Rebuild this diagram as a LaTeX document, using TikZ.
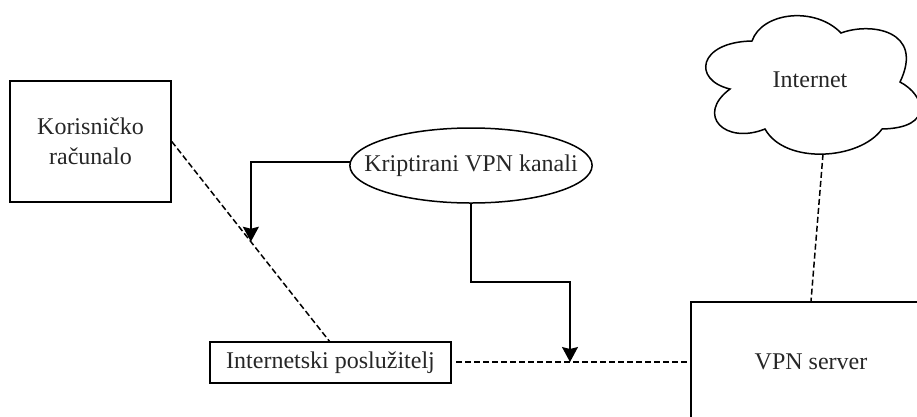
\documentclass[tikz,border=0pt]{standalone}
\usepackage{fontspec}
\setmainfont{Liberation Serif}
\usetikzlibrary{arrows.meta,positioning,shapes.geometric,calc}
\tikzset{
  txt/.style={font=\fontsize{24}{30}\selectfont, text=black!85},
  box/.style={rectangle, draw, line width=1.5pt, txt, inner sep=0pt},
  dashline/.style={line width=1.5pt, dash pattern=on 6pt off 3pt},
  arrowline/.style={-{Stealth[length=15pt,width=16pt,inset=2pt]}, line width=1.5pt}
}
\begin{document}
\begin{tikzpicture}[x=1pt,y=-1pt]
          \useasboundingbox (0,0) rectangle (917,416);
          \clip (0,0) rectangle (917,416);
          \node[box, minimum width=161pt, minimum height=121pt, align=center] at (90.5,141.5) (user) {Korisničko\\računalo};
          \node[box, minimum width=241pt, minimum height=41pt] at (330.5,362.5) (web) {Internetski poslužitelj};
          \node[box, minimum width=240pt, minimum height=120pt] at (811,362) (server) {VPN server};
          \node[ellipse, draw, line width=1.5pt, txt, minimum width=242pt, minimum height=75pt, inner xsep=-21pt, inner ysep=0pt] at (471,165.5) (vpn) {Kriptirani VPN kanali};
          % cloud outline
          \draw[line width=1.5pt] (752,41) .. controls (762,12) and (815,6) .. (841,33)
            .. controls (870,22) and (925,30) .. (900,82)
            .. controls (925,95) and (935,128) .. (882,129)
            .. controls (860,160) and (785,165) .. (765,129)
            .. controls (725,145) and (695,115) .. (730,89)
            .. controls (692,80) and (698,42) .. (752,41) -- cycle;
          \node[txt] at (810,80) (net) {Internet};
          \coordinate (netout) at (823,154);
          \coordinate (webout) at (456,362);
          \coordinate (useout) at (user.east);
          \coordinate (webin) at (330,342);
          \coordinate (hit) at ($(useout)!0.5!(webin)$);
          \coordinate (mid) at (570,362);
          \coordinate (vpnout) at (350,162);
          \draw[dashline] (useout) -- (webin);
          \draw[dashline] (webout) -- (server.west);
          \draw[dashline] (netout) -- (server.north);
          \draw[arrowline] (vpnout) -- (hit |- vpnout) -- (hit);
          \draw[arrowline] (vpn.south) -- (471,282) -- (570,282) -- (mid);
        \end{tikzpicture}
\end{document}
